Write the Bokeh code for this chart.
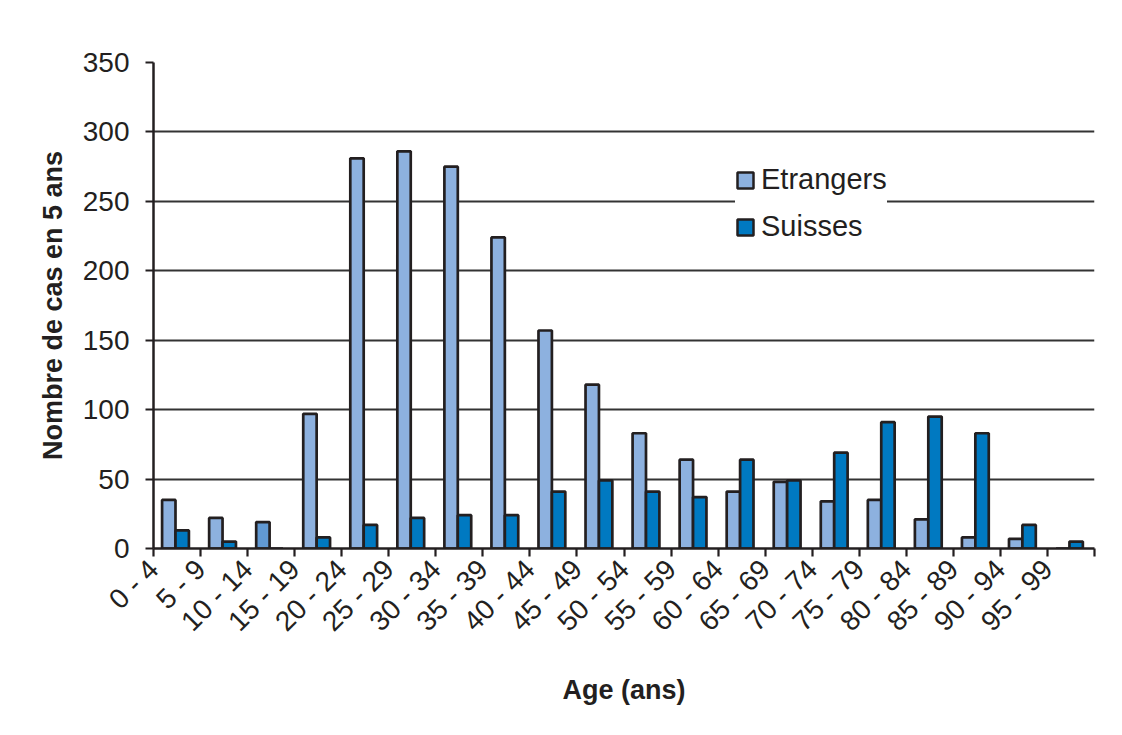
import numpy as np
from bokeh.plotting import figure
from bokeh.models import (ColumnDataSource, Range1d, FixedTicker, Legend, LegendItem)
from bokeh.embed import file_html
from bokeh.resources import INLINE

# ---- data ----
age_groups = ["0 - 4", "5 - 9", "10 - 14", "15 - 19", "20 - 24", "25 - 29", "30 - 34",
              "35 - 39", "40 - 44", "45 - 49", "50 - 54", "55 - 59", "60 - 64", "65 - 69",
              "70 - 74", "75 - 79", "80 - 84", "85 - 89", "90 - 94", "95 - 99"]
etrangers = [35, 22, 19, 97, 281, 286, 275, 224, 157, 118, 83, 64, 41, 48, 34, 35, 21, 8, 7, 0]
suisses = [13, 5, 0, 8, 17, 22, 24, 24, 41, 49, 41, 37, 64, 49, 69, 91, 95, 83, 17, 5]
y_ticks = [0, 50, 100, 150, 200, 250, 300, 350]
series_names = ["Etrangers", "Suisses"]

INK = "#231f20"
C_ETR = "#8db1df"
C_SUI = "#0079c1"
FONT = "Liberation Sans"

n = len(age_groups)
idx = np.arange(n)
etr_colors = [C_ETR] * n
etr_colors[2] = "#6199d3"

src_e = ColumnDataSource(dict(x=idx + 0.325, top=etrangers, color=etr_colors))
src_s = ColumnDataSource(dict(x=idx + 0.61, top=suisses))

p = figure(output_backend="svg", toolbar_location=None,
           frame_width=941, frame_height=486,
           min_border_left=153, min_border_right=12, min_border_top=62, min_border_bottom=171,
           x_range=Range1d(0, n), y_range=Range1d(0, 350),
           background_fill_color="white", border_fill_color="white")
p.outline_line_color = None

r_e = p.vbar(x="x", top="top", bottom=0, width=0.285, source=src_e,
             fill_color="color", line_color=INK, line_width=2.7)
r_s = p.vbar(x="x", top="top", bottom=0, width=0.285, source=src_s,
             fill_color=C_SUI, line_color=INK, line_width=2.7)

# legend swatches: boxes placed outside the visible range (only shown in legend)
sw_e = p.quad(left=[-5], right=[-4], bottom=[-5], top=[-4], fill_color=C_ETR,
              line_color=INK, line_width=2.5)
sw_s = p.quad(left=[-5], right=[-4], bottom=[-5], top=[-4], fill_color=C_SUI,
              line_color=INK, line_width=2.5)

# grid
p.xgrid.visible = False
p.ygrid.ticker = FixedTicker(ticks=y_ticks[1:])
p.ygrid.grid_line_color = "#333333"
p.ygrid.grid_line_width = 2.2
p.ygrid.level = "underlay"

# y axis
ya = p.yaxis[0]
ya.ticker = FixedTicker(ticks=y_ticks)
ya.axis_line_color = INK
ya.axis_line_width = 2.5
ya.major_tick_line_color = INK
ya.major_tick_line_width = 2.2
ya.major_tick_out = 8
ya.major_tick_in = 0
ya.minor_tick_line_color = None
ya.major_label_text_font = FONT
ya.major_label_text_font_size = "28px"
ya.major_label_text_color = INK
ya.major_label_standoff = 16
ya.axis_label = "Nombre de cas en 5 ans"
ya.axis_label_text_font = FONT
ya.axis_label_text_font_style = "bold"
ya.axis_label_text_font_size = "27px"
ya.axis_label_text_color = INK
ya.axis_label_standoff = 12

# x axis
xa = p.xaxis[0]
xa.ticker = FixedTicker(ticks=list(range(n + 1)))
xa.major_label_overrides = {i: age_groups[i] for i in range(n)} | {n: ""}
xa.major_label_orientation = np.pi / 4
xa.axis_line_color = INK
xa.axis_line_width = 2.5
xa.major_tick_line_color = INK
xa.major_tick_line_width = 2.2
xa.major_tick_out = 8
xa.major_tick_in = 0
xa.minor_tick_line_color = None
xa.major_label_text_font = FONT
xa.major_label_text_font_size = "28px"
xa.major_label_text_color = INK
xa.major_label_standoff = 8
xa.axis_label = "Age (ans)"
xa.axis_label_text_font = FONT
xa.axis_label_text_font_style = "bold"
xa.axis_label_text_font_size = "27px"
xa.axis_label_text_color = INK
xa.axis_label_standoff = 24

legend = Legend(items=[LegendItem(label=series_names[0], renderers=[sw_e]),
                       LegendItem(label=series_names[1], renderers=[sw_s])],
                location=(582, 305), orientation="vertical",
                background_fill_color="white", background_fill_alpha=1.0,
                border_line_color=None, padding=12, margin=0, spacing=14,
                glyph_width=20, glyph_height=20, label_height=30, label_standoff=6,
                label_text_font=FONT, label_text_font_size="29px", label_text_color=INK)
p.add_layout(legend)

open("out.html", "w").write(file_html(p, INLINE))
